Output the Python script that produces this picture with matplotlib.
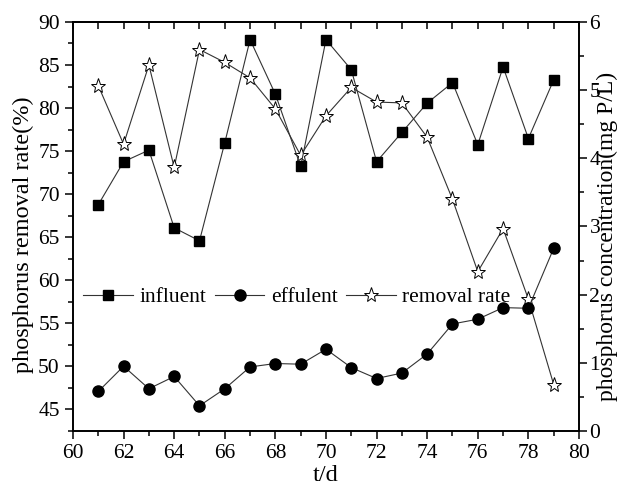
import numpy as np
import matplotlib as mpl
mpl.rcParams.update({'font.size': 15.5, 'font.family': 'Liberation Serif'})
from matplotlib import pyplot as plt
from matplotlib.ticker import MultipleLocator

days = list(range(61, 80))
influent = [3.32, 3.95, 4.12, 2.98, 2.79, 4.23, 5.74, 4.94, 3.88, 5.74,
            5.30, 3.95, 4.38, 4.81, 5.11, 4.20, 5.34, 4.29, 5.15]
effluent = [0.58, 0.95, 0.62, 0.80, 0.37, 0.62, 0.94, 0.99, 0.98, 1.20,
            0.93, 0.77, 0.85, 1.13, 1.57, 1.64, 1.81, 1.80, 2.68]
removal = [82.6, 75.8, 85.0, 73.1, 86.8, 85.3, 83.5, 79.9, 74.5, 79.1,
           82.4, 80.7, 80.6, 76.6, 69.4, 61.0, 66.0, 57.8, 47.9]

LINE = '#333333'


def plot_phosphorus():
    fig = plt.figure(figsize=(6.17, 4.88), dpi=100)
    ax = fig.add_axes([0.1183, 0.1168, 0.8201, 0.8382])
    ax2 = ax.twinx()

    h3, = ax.plot(days, removal, '-', color=LINE, lw=0.8, marker='*',
                  markersize=11, markerfacecolor='white',
                  markeredgecolor='black', markeredgewidth=0.7,
                  label='removal rate')
    h1, = ax2.plot(days, influent, '-', color=LINE, lw=0.8, marker='s',
                   markersize=7, markerfacecolor='black',
                   markeredgecolor='black', label='influent')
    h2, = ax2.plot(days, effluent, '-', color=LINE, lw=0.8, marker='o',
                   markersize=8, markerfacecolor='black',
                   markeredgecolor='black', label='effulent')

    ax.set_xlim(60, 80)
    ax.set_ylim(42.5, 90)
    ax2.set_ylim(0, 6)
    ax.xaxis.set_major_locator(MultipleLocator(2))
    ax.xaxis.set_minor_locator(MultipleLocator(1))
    ax.yaxis.set_major_locator(MultipleLocator(5))
    ax.yaxis.set_minor_locator(MultipleLocator(2.5))
    ax2.yaxis.set_major_locator(MultipleLocator(1))
    ax2.yaxis.set_minor_locator(MultipleLocator(0.5))

    ax.tick_params(which='major', direction='out', length=6, width=1.1)
    ax.tick_params(which='minor', direction='out', length=3.5, width=1.1)
    ax2.tick_params(which='major', direction='out', length=5.5, width=1.1,
                    pad=2)
    ax2.tick_params(which='minor', direction='out', length=3.5, width=1.1)

    top = ax.secondary_xaxis('top')
    top.xaxis.set_major_locator(MultipleLocator(1))
    top.tick_params(direction='in', length=5, width=1.1, labeltop=False)

    for a in (ax, ax2):
        for s in a.spines.values():
            s.set_linewidth(1.2)
    top.spines['top'].set_linewidth(1.2)

    ax.set_xlabel('t/d', fontsize=17.5, labelpad=1)
    ax.set_ylabel('phosphorus removal rate(%)', fontsize=17.5)
    ax.yaxis.set_label_coords(-0.077, 0.479)
    ax2.set_ylabel('phosphorus concentration(mg P/L)', fontsize=17)
    ax2.yaxis.set_label_coords(1.036, 0.476)

    ax2.legend(handles=[h1, h2, h3], loc='center left',
               bbox_to_anchor=(0.135, 1 - 297 / 488),
               bbox_transform=fig.transFigure, ncol=3, frameon=False,
               handlelength=2.3, handletextpad=0.3, columnspacing=0.4,
               borderpad=0, borderaxespad=0)
    return fig


def main():
    fig = plot_phosphorus()
    fig.savefig('out.png', dpi=100)


if __name__ == '__main__':
    main()
